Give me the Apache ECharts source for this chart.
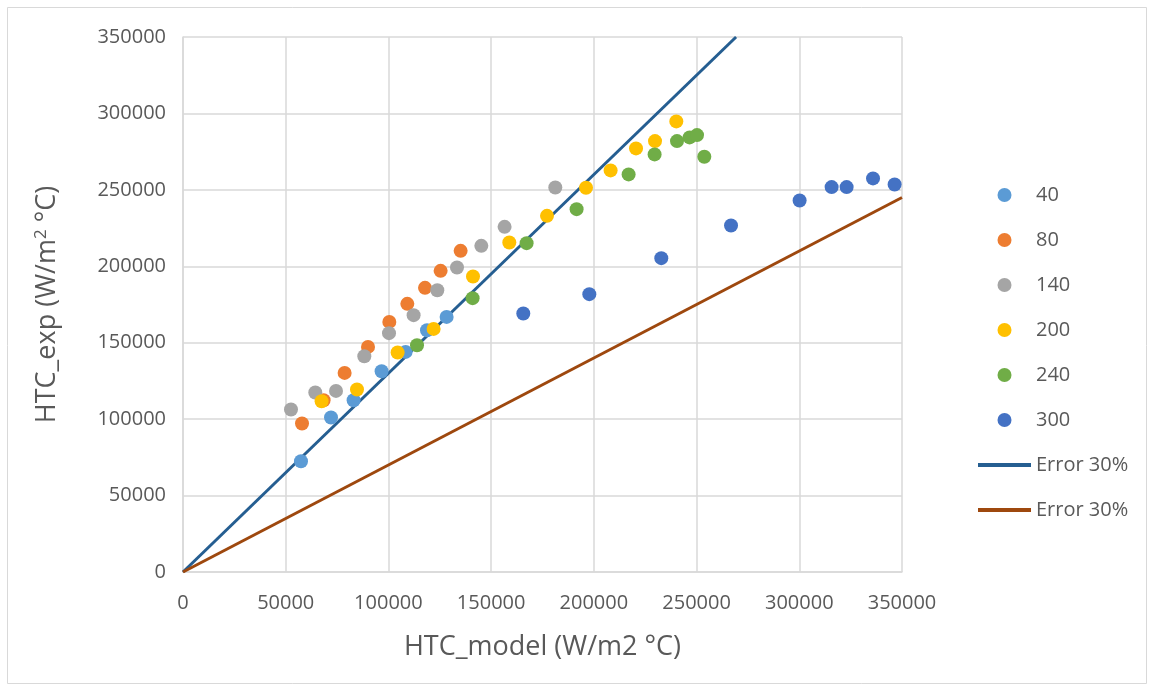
<!DOCTYPE html>
<html>
<head>
<meta charset="utf-8">
<script src="https://cdn.jsdelivr.net/npm/echarts@6/dist/echarts.min.js"></script>
<style>
  html, body { margin: 0; padding: 0; background: #fff; }
  #chart { width: 1154px; height: 690px; }
</style>
</head>
<body>
<div id="chart"></div>
<script>
// Measured heat transfer coefficient vs. model prediction, grouped by series label
const series40 = [[57440, 72450], [72050, 101050], [83050, 112380], [96680, 131360], [108360, 143990], [118780, 158190], [128320, 166900]];
const series80 = [[57930, 97130], [68440, 112380], [78670, 130250], [90060, 147260], [100430, 163630], [109190, 175410], [117810, 185880], [125400, 197010], [135140, 210100]];
const series140 = [[52570, 106290], [64400, 117420], [74480, 118470], [88260, 141180], [100280, 156250], [112260, 168030], [123790, 184370], [133380, 199230], [145210, 213370], [156550, 225810], [181230, 251590]];
const series200 = [[67470, 111720], [84700, 119380], [104470, 143600], [121990, 159040], [141170, 193340], [158840, 215590], [177200, 233000], [196180, 251330], [208160, 262720], [220520, 277120], [229770, 281890], [240140, 294790]];
const series240 = [[113910, 148380], [140980, 179140], [167260, 215140], [191600, 237390], [216920, 260100], [229570, 273190], [240480, 281890], [246610, 284310], [250220, 285820], [253770, 271620]];
const series300 = [[165650, 169120], [197790, 181760], [232830, 205320], [266770, 226730], [300160, 243080], [315740, 251790], [323040, 251790], [335890, 257480], [346410, 253550]];

// ±30 % error bands (end points of each straight line)
const errorPlus = [[0, 0], [269231, 350000]];
const errorMinus = [[0, 0], [350000, 245000]];

const seriesNames = ['40', '80', '140', '200', '240', '300'];
const seriesData = [series40, series80, series140, series200, series240, series300];
const seriesColors = ['#5B9BD5', '#ED7D31', '#A5A5A5', '#FFC000', '#70AD47', '#4472C4'];
const lineNames = ['Error 30%', 'Error 30%\u200B'];
const lineColors = ['#255E91', '#9E480E'];

const axisTicks = [0, 50000, 100000, 150000, 200000, 250000, 300000, 350000];

const FONT = '"Open Sans", "Noto Sans", sans-serif';
const TEXT = '#595959';

const chart = echarts.init(document.getElementById('chart'), null, { renderer: 'canvas' });

const scatterSeries = seriesNames.map((n, i) => ({
  name: n,
  type: 'scatter',
  data: seriesData[i],
  symbol: 'circle',
  symbolSize: 14,
  itemStyle: { color: seriesColors[i], opacity: 1 },
  z: 3,
  emphasis: { disabled: true }
}));

const lineSeries = [errorPlus, errorMinus].map((d, i) => ({
  name: lineNames[i],
  type: 'line',
  data: d,
  symbol: 'none',
  lineStyle: { color: lineColors[i], width: 3 },
  itemStyle: { color: lineColors[i] },
  z: 2,
  clip: true,
  emphasis: { disabled: true }
}));

const legendData = seriesNames.map(n => ({ name: n, icon: 'circle' }))
  .concat(lineNames.map(n => ({ name: n, icon: 'path://M0,0H53V4H0Z' })));

const plainNumber = v => String(v);

chart.setOption({
  animation: false,
  backgroundColor: '#ffffff',
  textStyle: { fontFamily: FONT },
  graphic: [{
    type: 'rect',
    shape: { x: 7.5, y: 7.5, width: 1139, height: 676 },
    style: { fill: 'none', stroke: '#D9D9D9', lineWidth: 1 },
    silent: true,
    z: -10
  }],
  grid: { left: 183, right: 252, top: 37, bottom: 118, containLabel: false },
  xAxis: {
    type: 'value',
    min: axisTicks[0],
    max: axisTicks[axisTicks.length - 1],
    interval: axisTicks[1] - axisTicks[0],
    name: 'HTC_model (W/m2 °C)',
    nameLocation: 'middle',
    nameGap: 62,
    nameTextStyle: { color: TEXT, fontSize: 27, fontFamily: FONT },
    axisLine: { show: true, lineStyle: { color: '#D9D9D9', width: 1.5 } },
    axisTick: { show: false },
    axisLabel: { color: TEXT, fontSize: 20, margin: 21, fontFamily: FONT, formatter: plainNumber },
    splitLine: { show: true, lineStyle: { color: '#D9D9D9', width: 1.5 } }
  },
  yAxis: {
    type: 'value',
    min: axisTicks[0],
    max: axisTicks[axisTicks.length - 1],
    interval: axisTicks[1] - axisTicks[0],
    name: 'HTC_exp (W/m{sup|2} °C)',
    nameLocation: 'middle',
    nameGap: 121,
    nameTextStyle: {
      color: TEXT, fontSize: 27, fontFamily: FONT,
      rich: { sup: { fontSize: 17, verticalAlign: 'top', color: TEXT, fontFamily: FONT, padding: [0, 0, 12, 0] } }
    },
    axisLine: { show: true, lineStyle: { color: '#D9D9D9', width: 1.5 } },
    axisTick: { show: false },
    axisLabel: { color: TEXT, fontSize: 20, margin: 17, fontFamily: FONT, formatter: plainNumber },
    splitLine: { show: true, lineStyle: { color: '#D9D9D9', width: 1.5 } }
  },
  legend: {
    orient: 'vertical',
    left: 973,
    top: 180,
    itemWidth: 53,
    itemHeight: 14,
    itemGap: 25,
    selectedMode: false,
    data: legendData,
    textStyle: { color: TEXT, fontSize: 20, fontFamily: FONT },
    formatter: n => n.replace('\u200B', '')
  },
  series: scatterSeries.concat(lineSeries)
});
</script>
</body>
</html>
